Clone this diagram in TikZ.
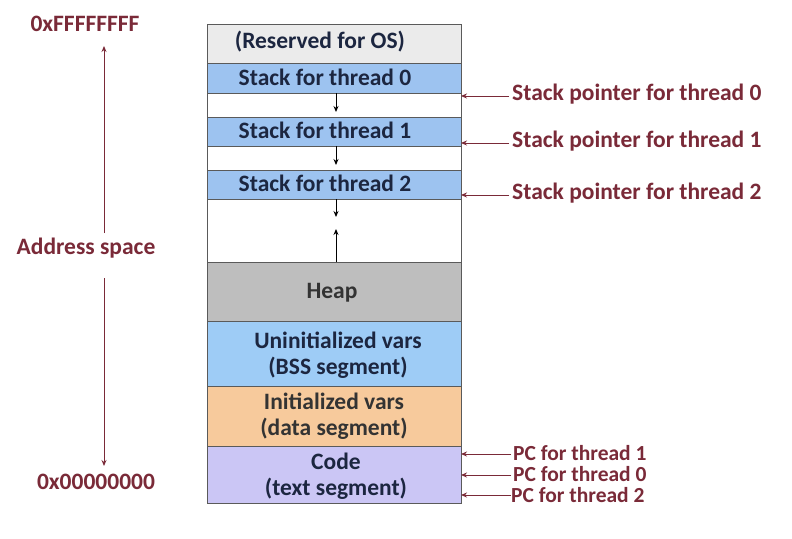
\documentclass[tikz,border=0pt]{standalone}
\usepackage{fontspec}
\setmainfont{Carlito}
\usetikzlibrary{arrows.meta}
\definecolor{lab}{HTML}{7A2A38}
\definecolor{navy}{HTML}{1C2640}
\definecolor{edge}{HTML}{5A5A5A}
\definecolor{resv}{HTML}{EBEBEB}
\definecolor{stk}{HTML}{9DC3F0}
\definecolor{heapc}{HTML}{BEBEBE}
\definecolor{bss}{HTML}{9ECCF6}
\definecolor{dat}{HTML}{F7CA9C}
\definecolor{code}{HTML}{CBC6F5}
\tikzset{
  seg/.style={draw=edge, line width=0.9pt, minimum width=254pt, anchor=north west, inner sep=0pt, outer sep=0pt},
  segtext/.style={text=navy, font=\bfseries\fontsize{23.5}{26}\selectfont, align=center},
  lbl/.style={text=lab, font=\bfseries\fontsize{23.5}{26}\selectfont, anchor=west, inner sep=0pt},
  pclbl/.style={lbl, font=\bfseries\fontsize{21.5}{22}\selectfont, anchor=base west, text height=13pt, text depth=0pt},
  redarrow/.style={draw=lab, line width=0.9pt, -{Stealth[length=6pt,width=5pt]}},
  blkarrow/.style={draw=black, line width=0.9pt, -{Stealth[length=6pt,width=5pt]}}
}
\begin{document}
\begin{tikzpicture}[x=1pt,y=-1pt]
\useasboundingbox[fill=white] (0,0) rectangle (792,538);
% segments
\node[seg, fill=resv, minimum height=39pt] (res) at (207,24) {};
\node[seg, fill=stk, minimum height=30pt] (s0) at (207,63) {};
\node[seg, fill=white, minimum height=24pt] (g0) at (207,93) {};
\node[seg, fill=stk, minimum height=29pt] (s1) at (207,117) {};
\node[seg, fill=white, minimum height=24pt] (g1) at (207,146) {};
\node[seg, fill=stk, minimum height=29pt] (s2) at (207,170) {};
\node[seg, fill=white, minimum height=63pt] (g2) at (207,199) {};
\node[seg, fill=heapc, minimum height=59pt] (heap) at (207,262) {};
\node[seg, fill=bss, minimum height=65pt] (uninit) at (207,321) {};
\node[seg, fill=dat, minimum height=60pt] (init) at (207,386) {};
\node[seg, fill=code, minimum height=57pt] (code) at (207,446) {};
% segment texts
\node[segtext] (tres) at (320,42) {(Reserved for OS)};
\node[segtext] (ts0) at (325,77) {Stack for thread 0};
\node[segtext] (ts1) at (325,130) {Stack for thread 1};
\node[segtext] (ts2) at (325,183) {Stack for thread 2};
\node[segtext, text=black!80] (theap) at (332,293) {Heap};
\node[segtext] (tuninit) at (338,355) {Uninitialized vars\\(BSS segment)};
\node[segtext, text=black!80] (tinit) at (334,416) {Initialized vars\\(data segment)};
\node[segtext] (tcode) at (336,476) {Code\\(text segment)};
% growth arrows
\coordinate (d0) at (336,112);
\coordinate (d1) at (336,165);
\coordinate (d2) at (336,217);
\coordinate (u2) at (336,229);
\draw[blkarrow] (s0.south -| d0) -- (d0);
\draw[blkarrow] (s1.south -| d1) -- (d1);
\draw[blkarrow] (s2.south -| d2) -- (d2);
\draw[blkarrow] (heap.north -| u2) -- (u2);
% right labels
\node[lbl] (sp0) at (512,94) {Stack pointer for thread 0};
\node[lbl] (sp1) at (512,141) {Stack pointer for thread 1};
\node[lbl] (sp2) at (512,193) {Stack pointer for thread 2};
\draw[redarrow] ([xshift=-3pt]sp0.west |- 0,96) -- (461,96);
\draw[redarrow] ([xshift=-3pt]sp1.west |- 0,143) -- (461,143);
\draw[redarrow] ([xshift=-3pt]sp2.west |- 0,195) -- (461,195);
\node[pclbl] (pc1) at (513,460) {PC for thread 1};
\node[pclbl] (pc0) at (513,481) {PC for thread 0};
\node[pclbl] (pc2) at (511,502) {PC for thread 2};
\draw[redarrow] ([xshift=-2pt]pc1.west |- 0,454) -- (461,454);
\draw[redarrow] ([xshift=-2pt]pc0.west |- 0,475) -- (461,475);
\draw[redarrow] (pc2.west |- 0,495) -- (461,495);
% left address space
\node[lbl, anchor=center] (top) at (85,24) {0xFFFFFFFF};
\node[lbl, anchor=center] (addr) at (86,248) {Address space};
\node[lbl, anchor=center] (bot) at (96,482) {0x00000000};
\coordinate (ttip) at (104,46);
\coordinate (btip) at (104,466);
\draw[redarrow] (104,233) -- (ttip);
\draw[redarrow] (104,278) -- (btip);
\end{tikzpicture}
\end{document}
